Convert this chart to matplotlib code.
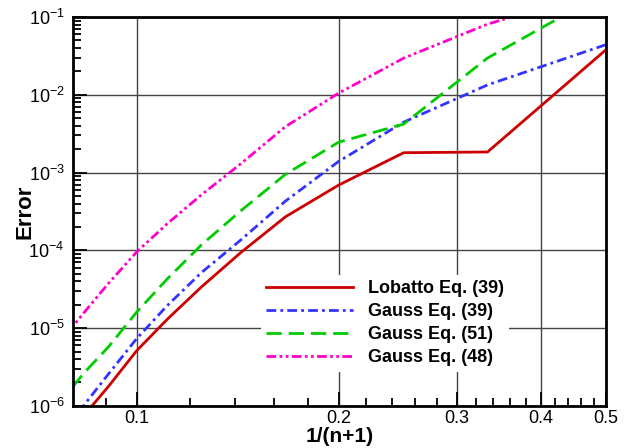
import numpy as np
import matplotlib
matplotlib.use("Agg")
import matplotlib.pyplot as plt
from matplotlib.ticker import FixedLocator, FixedFormatter, LogLocator, NullFormatter

plt.rcParams['font.family'] = ['Liberation Sans', 'DejaVu Sans']
plt.rcParams['mathtext.fontset'] = 'custom'
plt.rcParams['mathtext.rm'] = 'Liberation Sans'
plt.rcParams['mathtext.it'] = 'Liberation Sans:italic'
plt.rcParams['mathtext.bf'] = 'Liberation Sans:bold'

# --- DATA ---
n_vals = np.array([1, 2, 3, 4, 5, 6, 7, 8, 9, 10, 11, 12])
x_vals = 1.0 / (n_vals + 1)

err_lobatto39 = [3.77e-2, 1.84e-3, 1.8e-3, 6.9e-4, 2.7e-4, 9.3e-5, 3.4e-5, 1.3e-5, 5.1e-6, 1.8e-6, 7.4e-7, 3.0e-7]
err_gauss39 = [4.4e-2, 1.34e-2, 4.45e-3, 1.39e-3, 4.3e-4, 1.35e-4, 5.2e-5, 1.95e-5, 7.3e-6, 2.6e-6, 1.0e-6, 4.0e-7]
err_gauss51 = [2.1e-1, 2.97e-2, 4.2e-3, 2.46e-3, 9.5e-4, 3.2e-4, 1.18e-4, 4.3e-5, 1.6e-5, 5.8e-6, 2.6e-6, 1.1e-6]
err_gauss48 = [2.3e-1, 8.1e-2, 2.96e-2, 1.05e-2, 3.9e-3, 1.29e-3, 5.2e-4, 2.2e-4, 9.5e-5, 3.8e-5, 1.55e-5, 6.6e-6]

labels = ["Lobatto Eq. (39)", "Gauss Eq. (39)", "Gauss Eq. (51)", "Gauss Eq. (48)"]

x_major = [0.1, 0.2, 0.3, 0.4, 0.5]
x_major_labels = ["0.1", "0.2", "0.3", "0.4", "0.5"]
x_minor = [0.08, 0.09, 0.12, 0.14, 0.16, 0.18, 0.22, 0.24, 0.26, 0.28,
           0.32, 0.34, 0.36, 0.38, 0.42, 0.44, 0.46, 0.48]

# --- PLOT ---
fig = plt.figure(figsize=(6.29, 4.48), dpi=100)
ax = fig.add_axes([0.116, 0.094, 0.847, 0.868])

ax.plot(x_vals, err_lobatto39, color='#cc0000', lw=2.0, ls='-', label=labels[0])
ax.plot(x_vals, err_gauss39, color='#3333ff', lw=2.0, ls=(0, (3.5, 1.5, 1, 1.5)), label=labels[1])
ax.plot(x_vals, err_gauss51, color='#00cc00', lw=2.0, ls=(0, (5.5, 2.5)), label=labels[2])
ax.plot(x_vals, err_gauss48, color='#ff00cc', lw=2.0, ls=(0, (3.5, 1.2, 1, 1.2, 1, 1.2)), label=labels[3])

ax.set_xscale('log')
ax.set_yscale('log')
ax.set_xlim(0.0804, 0.5)
ax.set_ylim(1e-6, 1e-1)

ax.xaxis.set_major_locator(FixedLocator(x_major))
ax.xaxis.set_major_formatter(FixedFormatter(x_major_labels))
ax.xaxis.set_minor_locator(FixedLocator(x_minor))
ax.xaxis.set_minor_formatter(NullFormatter())
ax.yaxis.set_major_locator(LogLocator(base=10, numticks=10))
ax.yaxis.set_minor_locator(LogLocator(base=10, subs=np.arange(2, 10), numticks=20))
ax.yaxis.set_minor_formatter(NullFormatter())

ax.tick_params(which='both', direction='in', top=False, right=False, labelsize=13, width=1.3)
ax.tick_params(which='major', length=10, pad=6)
ax.tick_params(axis='x', which='major', pad=3)
ax.tick_params(which='minor', length=6)

ax.grid(True, which='major', color='#444444', lw=1.0)
for s in ax.spines.values():
    s.set_linewidth(2.0)

ax.set_xlabel("1/(n+1)", fontsize=15, fontweight='bold', labelpad=0)
ax.set_ylabel("Error", fontsize=16, fontweight='bold', labelpad=-5)

leg = ax.legend(loc='upper left', bbox_to_anchor=(0.336, 0.36), frameon=True,
                fancybox=False, edgecolor='none', facecolor='white', framealpha=1.0,
                handlelength=4.8, handletextpad=0.8, labelspacing=0.33,
                prop={'size': 13, 'weight': 'bold'}, borderpad=0.3)

fig.savefig("out.png", dpi=100)
